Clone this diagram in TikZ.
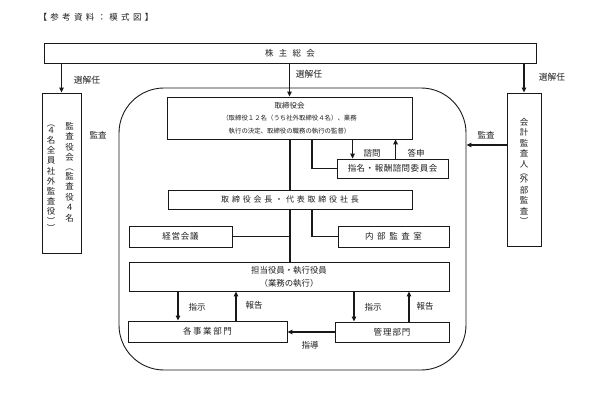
\documentclass[tikz,border=0pt]{standalone}
\usepackage{fontspec}
\newfontfamily\jp{Noto Sans CJK JP}
\usetikzlibrary{arrows.meta,calc}
\makeatletter
\newcommand\lsp[2]{\def\lsp@k{#1}\lsp@a#2\lsp@end}
\def\lsp@end{}
\def\lsp@a#1{#1\lsp@b}
\def\lsp@b#1{\ifx#1\lsp@end\else\kern\lsp@k#1\expandafter\lsp@b\fi}
\makeatother
\colorlet{ln}{black!90}
\colorlet{tx}{black!88}
\begin{document}
\begin{tikzpicture}[x=1pt,y=-1pt,
  every node/.style={font=\jp\fontsize{8.5}{10}\selectfont, text=tx, inner sep=0pt},
  box/.style={draw=ln, line width=0.9pt},
  conn/.style={draw=ln, line width=1.5pt},
  arr/.style={conn, -{Triangle[length=5pt,width=4.5pt]}},
  lbl/.style={font=\jp\fontsize{8.5}{10}\selectfont},
  vcol/.style={align=center}]
\fill[white] (0,0) rectangle (591,398);
\useasboundingbox (0,0) rectangle (591,398);

% title
\node (title) at (96,17) {\lsp{3.3pt}{【参考資料：模式図】}};

% boxes
\node[box, minimum width=492pt, minimum height=20pt] (kabu) at (290,53) {\lsp{5.3pt}{株主総会}};
\node[box, minimum width=39pt, minimum height=160pt] (kansa) at (61.5,173) {};
\node[vcol, font=\jp\fontsize{8.5}{10.4}\selectfont] (kansa1) at (69.5,172)
  {監\\査\\役\\会\\[-1pt]︵\\[-1pt]監\\査\\役\\４\\名};
\node[vcol, font=\jp\fontsize{8.5}{10.2}\selectfont] (kansa2) at (51,178)
  {︵\\[-3pt]４\\名\\全\\員\\社\\外\\監\\査\\役\\[-1pt]︶\\[-3pt]︶};
\node[box, minimum width=34pt, minimum height=153pt] (kaikei) at (524,169.5) {};
\node[vcol, font=\jp\fontsize{8.5}{10.6}\selectfont] (kaikei1) at (524,171)
  {会\\計\\監\\査\\人\\[-3pt]︵\\[-3pt]外\\部\\監\\査\\[-1pt]︶};

\node[draw=ln, line width=0.9pt, rounded corners=45pt, minimum width=347pt, minimum height=282pt] (region) at (292.5,229) {};

\node[box, minimum width=245pt, minimum height=42pt, align=center,
  font=\jp\fontsize{6.4}{12.5}\selectfont] (tori) at (289.5,118)
  {{\fontsize{7.5}{12.5}\selectfont 取締役会}\\（取締役１２名（うち社外取締役４名）、業務\\執行の決定、取締役の職務の執行の監督）};
\node[box, minimum width=111pt, minimum height=19pt] (shimei) at (392.5,168.5) {\lsp{0.5pt}{指名・報酬諮問委員会}};
\node[box, minimum width=244pt, minimum height=19pt, font=\jp\fontsize{8}{10}\selectfont] (daihyo) at (290,199.5) {\lsp{2.8pt}{取締役会長・代表取締役社長}};
\node[box, minimum width=103pt, minimum height=21pt] (keiei) at (180.5,236.5) {\lsp{0.7pt}{経営会議}};
\node[box, minimum width=111pt, minimum height=21pt] (naibu) at (393.5,236.5) {\lsp{3.6pt}{内部監査室}};
\node[box, minimum width=320pt, minimum height=29pt, align=center,
  font=\jp\fontsize{8.4}{13}\selectfont] (tanto) at (289,276.5)
  {担当役員・執行役員\\（業務の執行）};
\node[box, minimum width=159pt, minimum height=21pt] (kaku) at (207.5,331.5) {\lsp{1.6pt}{各事業部門}};
\node[box, minimum width=114pt, minimum height=20pt] (kanri) at (392,332) {\lsp{1pt}{管理部門}};

% connectors
\draw[arr] (kansa.north |- kabu.south) -- (kansa.north);
\draw[arr] (tori.north |- kabu.south) -- (tori.north);
\draw[arr] (kaikei.north |- kabu.south) -- (kaikei.north);
\coordinate (audy) at (0,145);
\draw[arr] (kaikei.west |- audy) -- (region.east |- audy);

\draw[conn] (daihyo.north |- tori.south) -- (daihyo.north);
\draw[conn] (daihyo.south) -- (tanto.north -| daihyo.south);
\draw[conn] ($(tori.south)+(22.5,0)$) |- (shimei.west);
\coordinate (q1) at ($(shimei.north west)+(16,0)$);
\coordinate (q2) at ($(shimei.north west)+(59,0)$);
\draw[arr] (q1 |- tori.south) -- (q1);
\draw[arr] (q2) -- (q2 |- tori.south);
\draw[conn] ($(daihyo.south)+(22,0)$) |- (naibu.west);
\draw[conn] (keiei.east) -- (keiei.east -| daihyo.south);

\coordinate (c1) at (178,0);
\coordinate (c2) at (236,0);
\coordinate (c3) at (354,0);
\coordinate (c4) at (409,0);
\draw[arr] (c1 |- tanto.south) -- (c1 |- kaku.north);
\draw[arr] (c2 |- kaku.north) -- (c2 |- tanto.south);
\draw[arr] (c3 |- tanto.south) -- (c3 |- kanri.north);
\draw[arr] (c4 |- kanri.north) -- (c4 |- tanto.south);
\draw[arr] (kanri.west) -- (kanri.west -| kaku.east);

% labels
\node[lbl, font=\jp\fontsize{8.8}{10}\selectfont] (l1) at (87,80) {選解任};
\node[lbl, font=\jp\fontsize{8.8}{10}\selectfont] (l2) at (309,74) {選解任};
\node[lbl, font=\jp\fontsize{8.8}{10}\selectfont] (l3) at (552,77) {選解任};
\node[lbl] (l4) at (98,135) {監査};
\node[lbl] (l5) at (486,135) {監査};
\node[lbl] (l6) at (372,153) {諮問};
\node[lbl] (l7) at (416,153) {答申};
\node[lbl] (l8) at (197,307) {指示};
\node[lbl] (l9) at (254,305) {報告};
\node[lbl] (l10) at (373,307) {指示};
\node[lbl] (l11) at (425,306) {報告};
\node[lbl] (l12) at (310,345) {指導};
\end{tikzpicture}
\end{document}
